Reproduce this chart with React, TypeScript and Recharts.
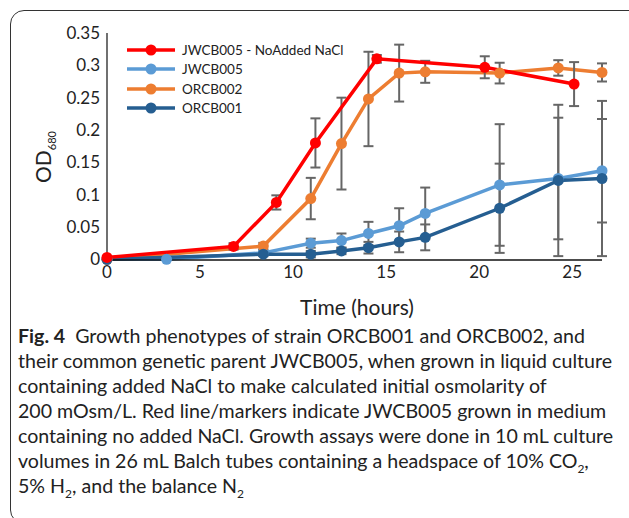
import { LineChart, Line, XAxis, YAxis, ErrorBar } from 'recharts';

// hours since inoculation, OD680 means and error (+/-) per strain
const noNaclHours = [0, 6.8, 9.1, 11.2, 14.5, 20.3, 25.1];
const noNaclOd = [0.003, 0.02, 0.088, 0.18, 0.31, 0.297, 0.271];
const noNaclErr = [0, 0.005, 0.011, 0.038, 0.006, 0.017, 0.034];

const jwHours = [0, 3.2, 8.4, 10.95, 12.6, 14.05, 15.7, 17.1, 21.1, 24.25, 26.6];
const jwOd = [0, 0, 0.01, 0.025, 0.029, 0.04, 0.052, 0.071, 0.115, 0.125, 0.137];
const jwErr = [0, 0.001, 0.004, 0.007, 0.011, 0.018, 0.027, 0.04, 0.094, 0.094, 0.08];

const orcbHours = [0, 8.4, 10.95, 12.6, 14.05, 15.7, 17.1, 21.1, 24.25, 26.6];
const orcb002Od = [0, 0.0205, 0.094, 0.179, 0.248, 0.288, 0.29, 0.288, 0.296, 0.289];
const orcb002Err = [0, 0.005, 0.032, 0.071, 0.073, 0.044, 0.017, 0.016, 0.012, 0.014];
const orcb001Od = [0, 0.008, 0.008, 0.013, 0.018, 0.027, 0.034, 0.079, 0.122, 0.125];
const orcb001Err = [0, 0.003, 0.005, 0.005, 0.009, 0.016, 0.02, 0.069, 0.117, 0.12];

const xTicks = [0, 5, 10, 15, 20, 25];
const yTicks = [0, 0.05, 0.1, 0.15, 0.2, 0.25, 0.3, 0.35];

const toRows = (hours: number[], od: number[], err: number[]) =>
  hours.map((h, i) => ({ h, od: od[i], err: err[i] }));

const series = [
  { name: 'JWCB005 - NoAdded NaCl', color: '#FF0000', data: toRows(noNaclHours, noNaclOd, noNaclErr) },
  { name: 'JWCB005', color: '#5B9BD5', data: toRows(jwHours, jwOd, jwErr) },
  { name: 'ORCB002', color: '#ED7D31', data: toRows(orcbHours, orcb002Od, orcb002Err) },
  { name: 'ORCB001', color: '#255E91', data: toRows(orcbHours, orcb001Od, orcb001Err) },
];

// draw order differs from legend order (red on top)
const drawOrder = [1, 2, 3, 0];

const tickStyle = { fontSize: 17, fill: '#222', fontFamily: 'Lato' };

// legend sits inside the plot, so it's drawn as an overlay (a Recharts Legend would shrink the plot)
function LegendBox() {
  return (
    <div style={styles.legend}>
      {series.map((s) => (
        <div key={s.name} style={{ display: 'flex', alignItems: 'center', height: 19.5 }}>
          <svg width={50} height={14} style={{ marginRight: 6 }}>
            <line x1={1} y1={7} x2={49} y2={7} stroke={s.color} strokeWidth={3.5} />
            <circle cx={25} cy={7} r={5.5} fill={s.color} />
          </svg>
          <span>{s.name}</span>
        </div>
      ))}
    </div>
  );
}

export default function App() {
  return (
    <div style={styles.page}>
      <div style={styles.frame} />
      <div style={{ position: 'absolute', left: 0, top: 0 }}>
        <LineChart width={629} height={320} margin={{ top: 33, right: 27, bottom: 30, left: 0 }}>
          <XAxis
            type="number"
            dataKey="h"
            domain={[0, 26.6]}
            ticks={xTicks}
            interval={0}
            allowDuplicatedCategory={false}
            stroke="#111"
            strokeWidth={1.4}
            tickLine={false}
            tickSize={0}
            tickMargin={6}
            height={30}
            tick={tickStyle}
          />
          <YAxis
            type="number"
            domain={[0, 0.35]}
            ticks={yTicks}
            interval={0}
            stroke="#111"
            strokeWidth={1.2}
            tickLine={false}
            tickSize={0}
            tickMargin={7}
            width={107}
            tick={tickStyle}
          />
          {drawOrder.map((i) => {
            const s = series[i];
            return (
              <Line
                key={s.name}
                data={s.data}
                dataKey="od"
                name={s.name}
                type="linear"
                stroke={s.color}
                strokeWidth={3.5}
                dot={{ r: 5.5, fill: s.color, stroke: s.color, strokeWidth: 0 }}
                activeDot={false}
                isAnimationActive={false}
              >
                <ErrorBar dataKey="err" width={5} stroke="#666" strokeWidth={2} direction="y" />
              </Line>
            );
          })}
        </LineChart>
      </div>
      <LegendBox />
      <div style={styles.yTitle}>
        OD<sub style={{ fontSize: 11, lineHeight: 0 }}>680</sub>
      </div>
      <div style={styles.xTitle}>Time (hours)</div>
      <div style={styles.caption}>
        <b>Fig. 4</b>&nbsp; Growth phenotypes of strain ORCB001 and ORCB002, and
        <br />
        their common genetic parent JWCB005, when grown in liquid culture
        <br />
        containing added NaCl to make calculated initial osmolarity of
        <br />
        200 mOsm/L. Red line/markers indicate JWCB005 grown in medium
        <br />
        containing no added NaCl. Growth assays were done in 10 mL culture
        <br />
        volumes in 26 mL Balch tubes containing a headspace of 10% CO<sub style={styles.sub}>2</sub>,
        <br />
        5% H<sub style={styles.sub}>2</sub>, and the balance N<sub style={styles.sub}>2</sub>
      </div>
    </div>
  );
}

const styles: Record<string, React.CSSProperties> = {
  page: {
    position: 'absolute',
    left: 0,
    top: 0,
    width: 629,
    height: 518,
    overflow: 'hidden',
    background: '#fff',
  },
  frame: {
    position: 'absolute',
    left: 10,
    top: 10,
    width: 700,
    height: 512,
    border: '1.5px solid #333',
    borderRadius: 14,
  },
  legend: {
    position: 'absolute',
    left: 126,
    top: 40,
    fontFamily: 'Lato',
    fontSize: 13.5,
    color: '#222',
    whiteSpace: 'nowrap',
  },
  yTitle: {
    position: 'absolute',
    left: 42,
    top: 157,
    transform: 'translate(-50%, -50%) rotate(-90deg)',
    fontFamily: 'Lato',
    fontSize: 21,
    color: '#222',
    whiteSpace: 'nowrap',
  },
  xTitle: {
    position: 'absolute',
    left: 357,
    top: 306,
    transform: 'translate(-50%, -50%)',
    fontFamily: 'Lato',
    fontSize: 21,
    color: '#222',
    whiteSpace: 'nowrap',
  },
  caption: {
    position: 'absolute',
    left: 18,
    top: 323,
    fontFamily: 'Lato',
    fontSize: 19.6,
    lineHeight: '25px',
    color: '#222',
    whiteSpace: 'nowrap',
  },
  sub: {
    fontSize: 12,
    lineHeight: 0,
  },
};
